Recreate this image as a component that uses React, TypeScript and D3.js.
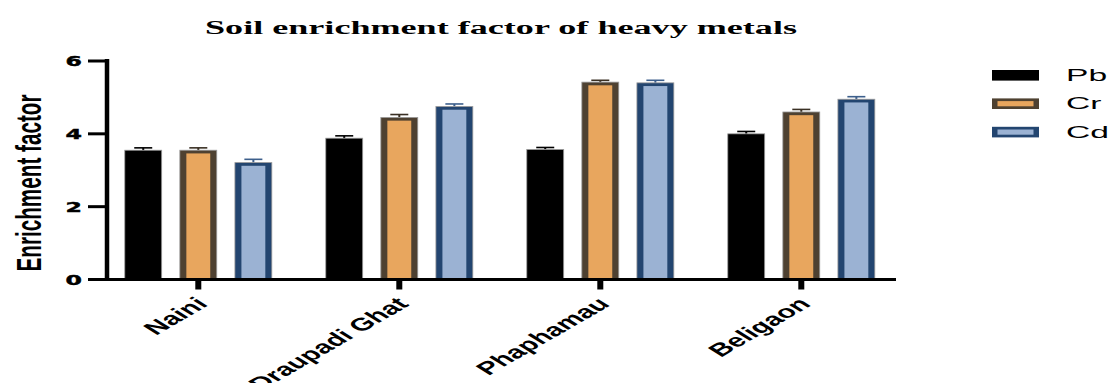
import React from "react";
import * as d3 from "d3";

const categories = ["Naini", "Draupadi Ghat", "Phaphamau", "Beligaon"];
const seriesNames = ["Pb", "Cr", "Cd"];
const pbValues = [3.55, 3.88, 3.57, 4.0];
const crValues = [3.55, 4.45, 5.42, 4.6];
const cdValues = [3.21, 4.75, 5.4, 4.95];
const pbErrors = [0.065, 0.065, 0.055, 0.065];
const crErrors = [0.065, 0.08, 0.05, 0.07];
const cdErrors = [0.09, 0.07, 0.07, 0.07];
const yTicks = [0, 2, 4, 6];
const titleText = "Soil enrichment factor of heavy metals";
const yLabel = "Enrichment factor";

const styles: Record<string, { fill: string; stroke: string; err: string }> = {
  Pb: { fill: "#000000", stroke: "#000000", err: "#000000" },
  Cr: { fill: "#E8A65E", stroke: "#4E4131", err: "#3a3024" },
  Cd: { fill: "#9BB2D3", stroke: "#234570", err: "#3d5f8c" },
};

export default function App() {
  const values: Record<string, number[]> = { Pb: pbValues, Cr: crValues, Cd: cdValues };
  const errors: Record<string, number[]> = { Pb: pbErrors, Cr: crErrors, Cd: cdErrors };

  const y = d3.scaleLinear().domain([0, 6]).range([279.5, 61]);
  const x = d3.scaleBand<string>().domain(categories).range([97.8, 901.8]).padding(0);
  const xs = d3
    .scaleBand<string>()
    .domain(seriesNames)
    .range([0, x.bandwidth()])
    .paddingInner(0.33)
    .paddingOuter(0.49);

  const axisX = 107;
  const baseY = y(0);

  return (
    <svg
      width={1111}
      height={383}
      style={{ position: "absolute", left: 0, top: 0, display: "block", background: "#fff" }}
    >
      {/* title */}
      <text
        x={501}
        y={34}
        textAnchor="middle"
        fontFamily="'Liberation Serif', 'Times New Roman', serif"
        fontWeight="bold"
        fontSize={18}
        textLength={592}
        lengthAdjust="spacingAndGlyphs"
      >
        {titleText}
      </text>

      {/* bars */}
      {categories.map((c, ci) =>
        seriesNames.map((s) => {
          const v = values[s][ci];
          const e = errors[s][ci];
          const x0 = (x(c) as number) + (xs(s) as number);
          const w = xs.bandwidth();
          const top = y(v);
          const st = styles[s];
          const cx = x0 + w / 2;
          const bw = s === "Pb" ? 0 : 6.5;
          const bh = s === "Pb" ? 0 : 3.2;
          return (
            <g key={c + s}>
              <line x1={cx} x2={cx} y1={top} y2={y(v + e)} stroke={st.err} strokeWidth={2} />
              <line x1={cx - 9} x2={cx + 9} y1={y(v + e)} y2={y(v + e)} stroke={st.err} strokeWidth={1.6} />
              <rect x={x0} y={top} width={w} height={baseY - top} fill={st.stroke} stroke="#9a9a9a" strokeWidth={0.8} />
              {bw > 0 && (
                <rect x={x0 + bw} y={top + bh} width={w - 2 * bw} height={baseY - top - bh} fill={st.fill} />
              )}
            </g>
          );
        })
      )}

      {/* y axis */}
      <line x1={axisX} x2={axisX} y1={y(6) - 2} y2={baseY + 1.5} stroke="#000" strokeWidth={4.5} />
      {yTicks.map((t) => (
        <g key={t}>
          <line x1={88} x2={axisX} y1={y(t)} y2={y(t)} stroke="#000" strokeWidth={3} />
          <text
            transform={`translate(82,${y(t) + 0.5}) scale(1.75,1)`}
            textAnchor="end"
            dominantBaseline="central"
            fontFamily="'DejaVu Sans', sans-serif"
            fontWeight="900"
            fontSize={13.5}
            stroke="#000"
            strokeWidth={0.4}
          >
            {t}
          </text>
        </g>
      ))}
      <text
        transform={`translate(41,183) scale(1.67,1) rotate(-90)`}
        textAnchor="middle"
        fontFamily="'Liberation Sans', Arial, sans-serif"
        fontWeight="bold"
        fontSize={21}
        textLength={177}
        lengthAdjust="spacingAndGlyphs"
      >
        {yLabel}
      </text>

      {/* x axis */}
      <line x1={axisX - 2} x2={896} y1={baseY} y2={baseY} stroke="#000" strokeWidth={3} />
      {categories.map((c) => {
        const cx = (x(c) as number) + x.bandwidth() / 2;
        return (
          <g key={c}>
            <line x1={cx} x2={cx} y1={baseY} y2={289.5} stroke="#000" strokeWidth={6} />
            <text
              transform={`translate(${cx - 4},${296}) scale(1.67,1) rotate(-44)`}
              textAnchor="end"
              dy="0.7em"
              fontFamily="'Liberation Sans', Arial, sans-serif"
              fontWeight="bold"
              fontSize={18}
            >
              {c}
            </text>
          </g>
        );
      })}

      {/* legend */}
      {seriesNames.map((s, i) => {
        const st = styles[s];
        const cy = 75.3 + i * 28.4;
        return (
          <g key={s}>
            <rect x={992} y={cy - 5.3} width={47} height={10.6} fill={st.stroke} />
            {s !== "Pb" && <rect x={997.5} y={cy - 2.6} width={36} height={5.2} fill={st.fill} />}
            <text
              transform={`translate(1066,${cy}) scale(2.1,1)`}
              dominantBaseline="central"
              fontFamily="'Liberation Sans', Arial, sans-serif"
              fontSize={16}
            >
              {s}
            </text>
          </g>
        );
      })}
    </svg>
  );
}
